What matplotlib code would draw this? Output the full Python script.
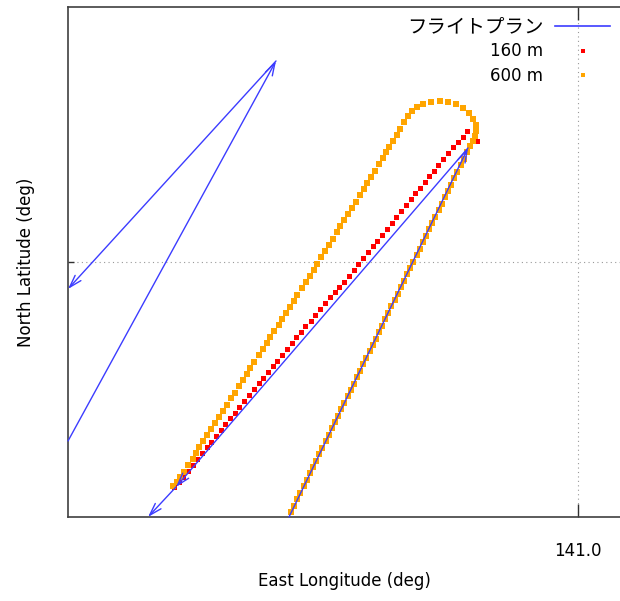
import numpy as np
import matplotlib
matplotlib.use('Agg')
import matplotlib.pyplot as plt
from matplotlib.lines import Line2D

plt.rcParams['font.family'] = ['DejaVu Sans', 'Noto Sans CJK JP']
################################################################################
# flight plan legs (drawn as vectors: start -> end)
plan_lon0 = [140.9711, 140.9890, 140.9598, 140.9490, 140.9698]
plan_lat0 = [34.9745, 35.0114, 34.9775, 34.9821, 35.0201]
plan_lon1 = [140.9890, 140.9598, 140.9570, 140.9698, 140.9490]
plan_lat1 = [35.0114, 34.9775, 34.9745, 35.0201, 34.9973]

# track at 160 m
lon_160 = [140.9596, 140.9601, 140.9605, 140.9610, 140.9615, 140.9619, 140.9624, 140.9629,
           140.9633, 140.9638, 140.9643, 140.9647, 140.9652, 140.9657, 140.9661, 140.9666,
           140.9671, 140.9676, 140.9681, 140.9685, 140.9690, 140.9695, 140.9699, 140.9704,
           140.9709, 140.9714, 140.9718, 140.9723, 140.9727, 140.9733, 140.9737, 140.9742,
           140.9747, 140.9752, 140.9757, 140.9761, 140.9766, 140.9771, 140.9776, 140.9780,
           140.9785, 140.9790, 140.9795, 140.9799, 140.9804, 140.9809, 140.9814, 140.9818,
           140.9823, 140.9828, 140.9833, 140.9837, 140.9842, 140.9847, 140.9851, 140.9856,
           140.9860, 140.9865, 140.9870, 140.9875, 140.9880, 140.9885, 140.9889, 140.9897,
           140.9899]
lat_160 = [34.9775, 34.9780, 34.9785, 34.9791, 34.9797, 34.9803, 34.9809, 34.9815,
           34.9820, 34.9826, 34.9832, 34.9838, 34.9844, 34.9849, 34.9855, 34.9861,
           34.9867, 34.9873, 34.9879, 34.9884, 34.9890, 34.9896, 34.9901, 34.9907,
           34.9913, 34.9919, 34.9925, 34.9930, 34.9936, 34.9941, 34.9947, 34.9953,
           34.9959, 34.9965, 34.9970, 34.9975, 34.9980, 34.9986, 34.9992, 34.9998,
           35.0004, 35.0010, 35.0016, 35.0021, 35.0027, 35.0033, 35.0039, 35.0045,
           35.0051, 35.0057, 35.0063, 35.0069, 35.0074, 35.0080, 35.0086, 35.0091,
           35.0097, 35.0103, 35.0109, 35.0115, 35.0120, 35.0125, 35.0131, 35.0128,
           35.0121]

# track at 600 m
lon_600 = [140.9595, 140.9599, 140.9602, 140.9606, 140.9610, 140.9615, 140.9618, 140.9621,
           140.9625, 140.9629, 140.9633, 140.9637, 140.9641, 140.9645, 140.9649, 140.9653,
           140.9657, 140.9661, 140.9665, 140.9669, 140.9672, 140.9676, 140.9681, 140.9685,
           140.9689, 140.9692, 140.9696, 140.9701, 140.9704, 140.9708, 140.9712, 140.9716,
           140.9719, 140.9724, 140.9728,
           140.9732, 140.9736, 140.9739, 140.9743, 140.9747, 140.9751, 140.9755, 140.9759,
           140.9762, 140.9766, 140.9770, 140.9774, 140.9778, 140.9782, 140.9786, 140.9789,
           140.9793, 140.9797, 140.9801, 140.9805, 140.9808,
           140.9811, 140.9815, 140.9819, 140.9822, 140.9826, 140.9830, 140.9834, 140.9839,
           140.9845, 140.9853, 140.9862, 140.9870, 140.9878, 140.9885, 140.9891, 140.9895,
           140.9898, 140.9898, 140.9897, 140.9895,
           140.9892, 140.9889, 140.9886, 140.9883, 140.9879, 140.9876, 140.9873, 140.9870,
           140.9867, 140.9864, 140.9861, 140.9857, 140.9854, 140.9851, 140.9848, 140.9845,
           140.9842, 140.9839, 140.9835, 140.9832, 140.9829, 140.9826, 140.9823, 140.9820,
           140.9817, 140.9813, 140.9810, 140.9807, 140.9804, 140.9801, 140.9798, 140.9795,
           140.9792, 140.9788, 140.9785, 140.9782, 140.9779, 140.9776, 140.9773, 140.9770,
           140.9766, 140.9763, 140.9760, 140.9757, 140.9754, 140.9751, 140.9748, 140.9744,
           140.9741, 140.9738, 140.9735, 140.9732, 140.9729, 140.9726, 140.9722, 140.9719,
           140.9716, 140.9713]
lat_600 = [34.9776, 34.9780, 34.9785, 34.9790, 34.9797, 34.9803, 34.9809, 34.9815,
           34.9821, 34.9827, 34.9833, 34.9839, 34.9845, 34.9851, 34.9857, 34.9864,
           34.9869, 34.9876, 34.9882, 34.9888, 34.9894, 34.9900, 34.9907, 34.9913,
           34.9919, 34.9925, 34.9931, 34.9937, 34.9943, 34.9949, 34.9955, 34.9961,
           34.9967, 34.9974, 34.9980,
           34.9986, 34.9992, 34.9998, 35.0005, 35.0011, 35.0017, 35.0023, 35.0030,
           35.0036, 35.0042, 35.0048, 35.0054, 35.0060, 35.0067, 35.0073, 35.0079,
           35.0085, 35.0091, 35.0098, 35.0104, 35.0110,
           35.0115, 35.0121, 35.0127, 35.0133, 35.0140, 35.0146, 35.0151, 35.0155,
           35.0158, 35.0160, 35.0161, 35.0160, 35.0158, 35.0154, 35.0149, 35.0143,
           35.0137, 35.0131, 35.0126, 35.0121,
           35.0116, 35.0110, 35.0103, 35.0097, 35.0090, 35.0084, 35.0077, 35.0071,
           35.0065, 35.0058, 35.0052, 35.0045, 35.0039, 35.0033, 35.0026, 35.0020,
           35.0013, 35.0007, 35.0000, 34.9994, 34.9988, 34.9981, 34.9975, 34.9968,
           34.9962, 34.9956, 34.9949, 34.9943, 34.9936, 34.9930, 34.9923, 34.9917,
           34.9911, 34.9904, 34.9898, 34.9891, 34.9885, 34.9878, 34.9872, 34.9866,
           34.9859, 34.9853, 34.9846, 34.9840, 34.9834, 34.9827, 34.9821, 34.9814,
           34.9808, 34.9801, 34.9795, 34.9789, 34.9782, 34.9776, 34.9769, 34.9763,
           34.9756, 34.9750]

xtick_vals = [141.0]
xtick_labels = ['141.0']
ytick_vals = [35.0]
ytick_labels = ['']
################################################################################
plan_color = '#3c3cff'
fig = plt.figure(figsize=(6.2, 6.01), dpi=100)
ax = fig.add_axes([0.1097, 0.1398, 0.8903, 0.8486])

# flight plan vectors
for x0, y0, x1, y1 in zip(plan_lon0, plan_lat0, plan_lon1, plan_lat1):
    ax.annotate('', xy=(x1, y1), xytext=(x0, y0), annotation_clip=False,
                arrowprops=dict(arrowstyle='->,head_length=0.9,head_width=0.28',
                                color=plan_color, lw=1.0, shrinkA=0, shrinkB=0))

ax.plot(lon_160, lat_160, ls='none', marker='s', ms=3.6, color='red', mew=0)
ax.plot(lon_600, lat_600, ls='none', marker='s', ms=4.1, color='#ffa500', mew=0)

ax.set_xlim(140.9490, 141.0042)
ax.set_ylim(34.9745, 35.0255)
ax.set_xticks(xtick_vals)
ax.set_xticklabels(xtick_labels, fontsize=12)
ax.set_yticks(ytick_vals)
ax.set_yticklabels(ytick_labels)
ax.tick_params(axis='x', direction='in', length=9.5, width=1, top=True, pad=18,
               color='#303030')
ax.tick_params(axis='y', direction='in', length=4.5, width=1, right=False,
               color='#303030')
ax.grid(True, ls=(0, (1, 3)), color='#999999', lw=0.8)
for side in ['left', 'bottom', 'top']:
    ax.spines[side].set_color('#404040')
    ax.spines[side].set_linewidth(1.2)
ax.spines['right'].set_visible(False)

ax.set_xlabel('East Longitude (deg)', fontsize=12, labelpad=9)
ax.set_ylabel('North Latitude (deg)', fontsize=12, labelpad=20)

handles = [Line2D([], [], color=plan_color, lw=1.2),
           Line2D([], [], ls='none', marker='s', ms=3.3, color='red', mew=0),
           Line2D([], [], ls='none', marker='s', ms=3.3, color='#ffa500', mew=0)]
labels = ['フライトプラン', '160 m', '600 m']
leg = fig.legend(handles, labels, loc='upper right', bbox_to_anchor=(610 / 620, 1 - 17 / 601),
                 frameon=False, fontsize=12, markerfirst=False, handlelength=3.3,
                 handletextpad=0.7, labelspacing=0.38, borderpad=0, borderaxespad=0,
                 numpoints=1)
leg.get_texts()[0].set_fontsize(14)

fig.savefig('out.png', dpi=100)
